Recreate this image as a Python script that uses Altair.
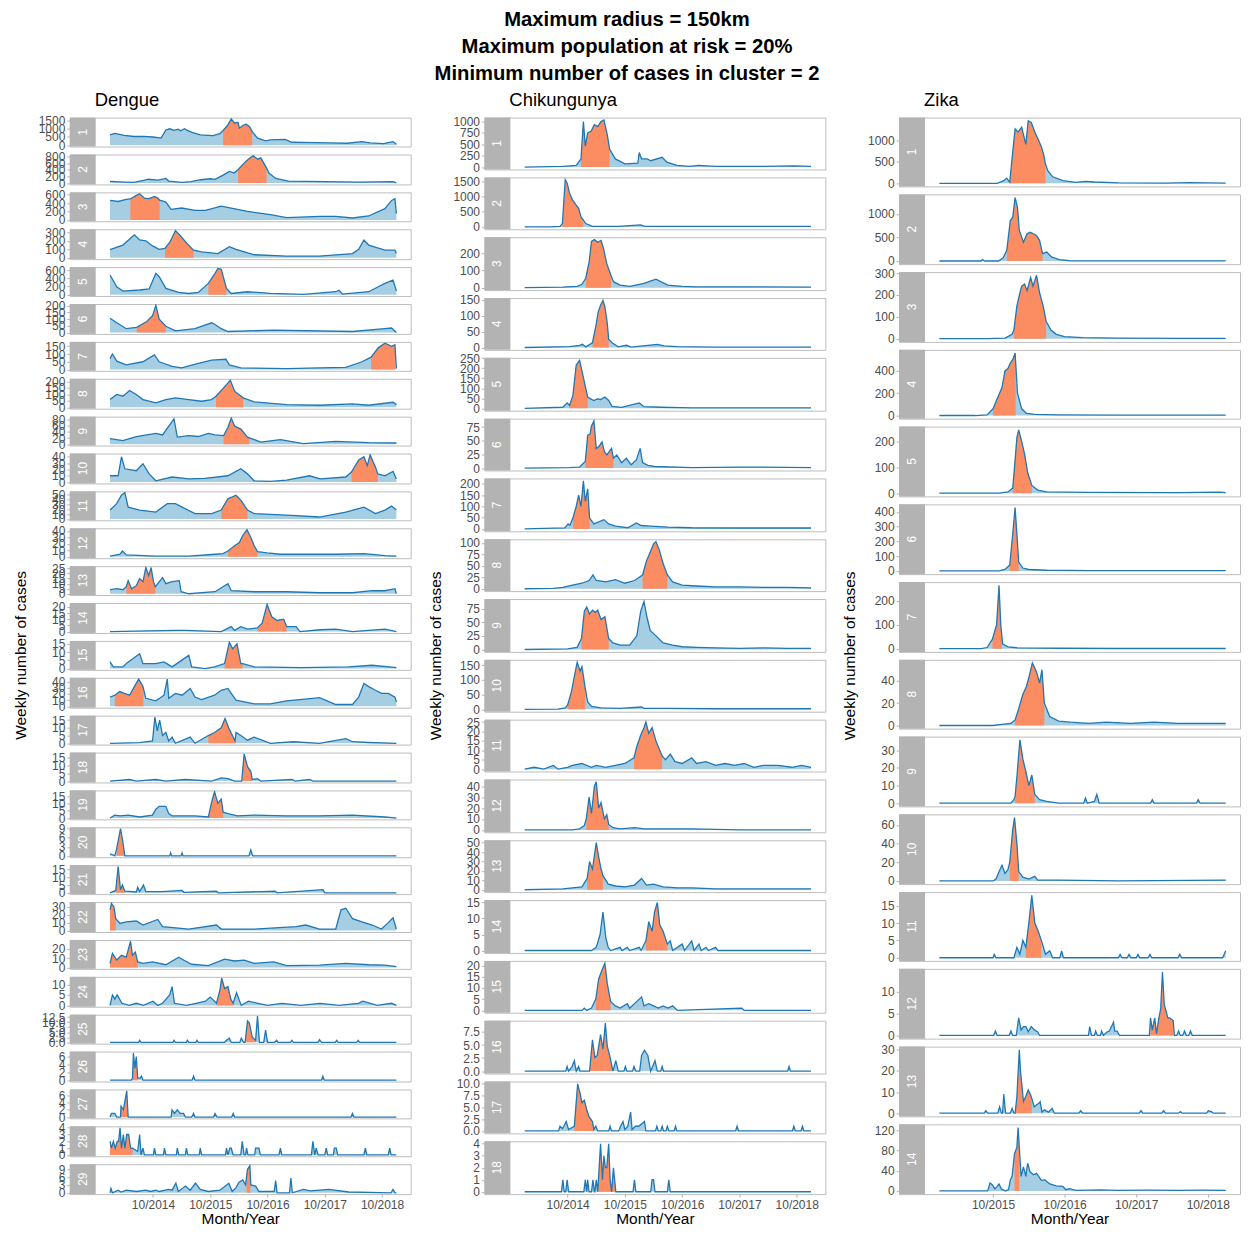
import altair as alt
import pandas as pd

FONT = "Liberation Sans"
TITLE_LINES = ["Maximum radius = 150km", "Maximum population at risk = 20%",
               "Minimum number of cases in cluster = 2"]
DISEASES = ["Dengue", "Chikungunya", "Zika"]
N_MONTHS = {"Dengue": 60, "Chikungunya": 60, "Zika": 48}   # months since Jan of first year
XTICKS = {"Dengue": [9, 21, 33, 45, 57], "Chikungunya": [9, 21, 33, 45, 57], "Zika": [9, 21, 33, 45]}
XLABELS = {"Dengue": ["10/2014", "10/2015", "10/2016", "10/2017", "10/2018"],
           "Chikungunya": ["10/2014", "10/2015", "10/2016", "10/2017", "10/2018"],
           "Zika": ["10/2015", "10/2016", "10/2017", "10/2018"]}
Y_TITLE = "Weekly number of cases"
X_TITLE = "Month/Year"

# ---------------- Dengue (months since Jan 2014, weekly cases) ----------------
DENGUE = [
 [(0,630),(1,720),(3,600),(5,530),(7,540),(9,500),(10.7,430),(11.7,930),(12.5,1000),(13.4,900),(14.3,980),(14.8,880),(15.6,1000),(16.2,900),(17.2,780),(18.9,630),(21.6,590),(23,700),(23.7,900),(24.6,1200),(25.4,1600),(26.1,1340),(26.8,1400),(27.1,1040),(27.8,1200),(28.5,1280),(29.2,1140),(29.8,830),(30.9,430),(32.6,270),(33.6,330),(35,340),(36.7,360),(38.1,180),(42.9,160),(46,140),(49.7,120),(52.8,220),(54.5,140),(57.3,100),(59.3,220),(60,60)],
 [(0,50),(3,30),(5,20),(7,80),(8,115),(10,90),(11.7,140),(12.3,60),(15,20),(17,40),(19,100),(21,130),(22,110),(23.7,240),(25,350),(26,300),(26.8,400),(28.5,660),(29.5,780),(30,820),(31,720),(31.6,760),(32.8,450),(33.3,300),(34.7,140),(37.4,60),(45,40),(52,30),(59.3,40),(60,5)],
 [(0,465),(1.7,440),(3.4,490),(4.25,500),(5.5,585),(6.2,625),(7.2,520),(8.2,510),(9.3,560),(10,520),(10.4,470),(11.7,425),(12.8,253),(15,285),(17.8,230),(20,230),(23.3,330),(26.7,253),(28.8,205),(33.6,126),(37,55),(43.9,87),(47.3,87),(50.8,47),(54.2,95),(57.6,270),(59,465),(59.7,505),(60,150)],
 [(0,97),(2.7,150),(5.1,270),(6.2,210),(7.5,200),(8.9,140),(10.3,100),(11.5,110),(12.6,190),(13.7,320),(14.7,263),(16.1,170),(17.5,90),(19.2,70),(22.6,50),(25,130),(26.4,100),(30.2,36),(37,20),(43.9,20),(50.8,50),(52.1,100),(53.2,210),(54.2,150),(57.6,90),(59.7,90),(60,50)],
 [(0,480),(1.4,195),(2.7,90),(6.2,115),(8.2,140),(9.6,520),(10.3,440),(11.7,155),(14.4,60),(16.5,30),(18.5,55),(20.6,275),(22,520),(22.6,640),(23.3,620),(24.4,155),(25.4,30),(28.8,73),(33.6,32),(40.5,8),(47.3,73),(48,110),(48.7,15),(54.2,73),(56.2,195),(57.6,275),(59.3,355),(60,90)],
 [(0,107),(1.4,73),(3.4,29),(5.6,39),(7.6,80),(8.9,125),(9.6,203),(10.3,100),(11.7,47),(13.7,13),(17.8,29),(21.3,73),(22,60),(23.3,29),(24.7,8),(34.3,18),(50.8,8),(57.6,29),(59,34),(60,0)],
 [(0,70),(0.5,100),(1.4,54),(3.4,30),(6.9,50),(9.3,94),(10.3,50),(13,20),(15,10),(18.5,40),(21.3,60),(24.3,66),(25,30),(27.4,10),(37,6),(43.9,10),(49.4,14),(52.8,50),(54.7,80),(56.2,140),(57.6,170),(59,150),(59.7,160),(60,6)],
 [(0,60),(1.4,100),(2.7,86),(4.1,130),(5.5,99),(6.9,60),(9.6,34),(11.7,60),(13.7,73),(16.5,60),(19.2,47),(21.3,60),(22.2,86),(23.8,150),(25.2,210),(26.1,125),(27.9,73),(30.2,42),(37,21),(43.9,16),(50.8,26),(54.2,16),(59.3,39),(60,21)],
 [(0,18),(2.7,12),(5.5,25),(9.6,35),(11,30),(13.4,82),(14.1,23),(16.5,28),(18.5,25),(20.6,35),(22,30),(23.8,28),(24.7,54),(25.4,85),(26.1,59),(27.4,49),(28.8,23),(31.6,7),(35.7,15),(40.5,2),(47.3,9),(54.2,5),(60,4)],
 [(0,10),(1.7,10),(2.4,40),(3.1,21),(5.5,18),(6.9,29),(8.2,13),(9.6,2),(13,8),(16.5,5),(19.9,6),(24.7,10),(27.4,21),(28.8,13),(30.2,2),(33.6,1),(37,3),(41.8,10),(44,5),(49.4,8),(50.6,16),(52.1,35),(53.2,40),(53.9,26),(54.5,43),(55.6,24),(56.1,13),(57.6,10),(59.3,17),(60,5)],
 [(0,18),(1.4,31),(2.4,48),(3.1,53),(3.8,24),(6.2,18),(9.6,14),(12,31),(13.7,31),(15.1,24),(17.8,11),(21.3,11),(23.3,18),(24.7,41),(26.4,48),(27.4,38),(28.8,18),(30.2,11),(37,8),(43.9,4),(49.4,14),(53.2,24),(55.6,11),(57.6,18),(59,26),(60,18)],
 [(0,1),(2.1,4),(2.6,9),(3.4,3),(9.6,1),(16.5,1),(22,4),(23.7,5),(24.7,9),(26.1,17),(27.1,22),(27.8,33),(28.7,42),(29.5,30),(30.2,17),(30.9,8),(32.9,6),(35.7,4),(40.5,4),(47.3,4),(53.2,5),(57.6,2),(60,1)],
 [(0,4),(1.4,5),(2.7,4),(3.4,7),(3.8,13),(4.5,5),(5.5,8),(6.2,15),(6.9,12),(7.5,26),(8.1,18),(8.6,26),(9.1,12),(9.5,7),(11,16),(11.7,10),(13,12),(14.5,13),(14.9,2),(16.5,0),(22,2),(24.7,10),(25.4,3),(30.2,2),(37,2),(43.9,1),(50.8,1),(54.9,3),(57.6,3),(59.7,5),(60,0)],
 [(0,0),(13.7,1),(15.8,1),(23.3,0),(25.4,4),(26.1,1),(27.4,4),(28.8,2),(30.9,3),(31.9,7),(32.9,22),(33.9,12),(35,9),(36.4,10),(37,4),(39,4),(39.8,0),(44,1.5),(47.3,2),(50.8,0),(57.6,2),(60,0)],
 [(0,4),(0.7,1),(2.7,1),(3.4,3),(6.2,9),(6.9,3),(9.6,3),(11.3,4),(13,1),(16.5,8),(17.1,1),(19.9,0),(21.9,1),(24,3),(25,16),(25.7,12),(26.6,15),(27.4,3),(27.8,3),(30.2,1),(40,0.5),(50,1),(54.9,2),(60,0.5)],
 [(0,15),(1,18),(2,24),(3,21),(4.1,18),(5.1,32),(6,44),(6.9,32),(7.5,13),(9.6,9),(11.3,18),(12,44),(12.3,13),(13.7,21),(15.1,18),(16.8,29),(17.8,15),(19.2,11),(21.9,18),(23.3,26),(24.7,29),(25.4,21),(26.4,10),(30.2,4),(33.6,4),(37,9),(42.5,13),(43.9,14),(47.3,3),(50.8,3),(52.1,15),(53.2,37),(54.2,32),(55.6,26),(56.9,21),(58.3,21),(59.7,15),(60,7)],
 [(0,0),(6.2,0.4),(8.9,1.5),(9.4,17),(9.9,8),(10.4,15),(11,5),(11.7,7),(12.3,1.5),(13,4),(13.7,0),(16.8,4),(17.8,0),(20.6,5),(21.9,7),(23.3,10),(24.1,16),(25,9),(26.2,1.5),(26.4,7),(27.4,5),(28.8,2),(30.2,4),(33.6,0),(38.4,1),(43.9,0),(49.4,3),(50.8,1),(54.2,0.5),(60,0)],
 [(0,0),(4.1,1),(5.5,0),(9.6,1),(11.7,0),(15.8,1),(21.3,0),(23.3,2),(24.7,1.5),(26.1,0),(27.6,0),(28.1,17),(28.8,9),(29.5,6),(29.8,1),(30.9,1.5),(31.6,0),(38.1,1),(38.8,0),(41.8,1),(42.5,0),(60,0)],
 [(0,0),(1,2),(2.1,1.5),(3.8,2),(6.2,0.7),(8.9,2),(9.6,6),(10.3,8),(11.7,8),(12.3,3),(13,1.5),(17.8,1.5),(20.6,0.7),(21.3,11),(21.9,18),(22.6,10),(23.3,13),(23.7,4),(24.7,3),(26.7,1.5),(30.2,2),(37,1.5),(43.9,1.5),(50.8,2),(57.6,0.7),(60,0)],
 [(0,0.7),(1,0),(1.4,2.4),(2.2,9),(2.6,5.5),(3.1,0),(12.5,0),(12.7,1),(12.9,0),(14.9,0),(15.1,1),(15.3,0),(29.1,0),(29.5,2),(29.9,0),(60,0)],
 [(0,0),(1.2,1.5),(1.7,17),(2.2,2),(2.6,5),(3.1,1),(5.5,0.5),(5.8,3.5),(6.2,0.8),(7,5),(7.5,0.8),(10.9,0.8),(15.1,1.5),(15.5,0.3),(22.3,1),(22.7,0),(34.6,1),(35,0),(44.6,2),(45,0),(60,0)],
 [(0,26),(0.3,34),(0.8,30),(1.2,15),(2.1,9),(3.4,11),(5.5,12),(6.9,7),(10,14),(11,5),(16.5,2),(22.3,7),(23.3,2),(30.2,2),(39,5),(41,7),(43.9,2),(47.3,2),(48.4,26),(49.4,28),(50.8,15),(52.8,11),(54.9,7),(56.9,2),(58.3,10),(59.3,16),(60,2)],
 [(0,4.5),(0.5,15),(1.4,8),(2.4,13),(3.4,11),(4.3,28),(4.7,13),(5.3,16.5),(5.8,6),(6.9,4.5),(8.9,6),(11.7,3),(14.4,11),(15.4,8),(17.1,3.5),(20.6,2),(24,9),(26.1,7),(28.1,8),(30.2,4.5),(34.3,6),(37,2),(43.9,2.5),(49.4,4.5),(54.2,3),(57.6,2.5),(60,1)],
 [(0,0),(0.5,5),(1,3),(1.5,5),(2.5,1),(4,0),(5.5,1),(7,0),(9,2),(10,0),(11,1),(12.5,5),(13,9),(13.5,1),(16,0),(18,1),(20,2),(21,4),(22.3,1),(23,7),(23.4,13),(24,8),(24.7,9),(25.3,3),(25.8,1),(26.5,6),(27.5,0),(29,2),(31,1),(33,0),(36,1),(40,0),(44,1),(48,0),(52,1),(53,2),(56,0),(59,1),(60,0)],
 [(0,0),(6,0),(6.2,1),(6.5,0),(13.2,0),(13.4,1),(13.7,0),(16,0),(16.2,1),(16.5,0),(18,0),(18.2,1),(18.5,0),(24,0),(24.4,1),(25,2),(25.4,0),(27.2,0),(27.5,2),(28,0),(28.3,0),(28.8,10.5),(29.2,9.5),(29.8,2.5),(30.5,1),(30.9,13),(31.3,0),(32.2,0),(32.6,6),(33,0),(34.5,0),(34.9,1),(35.2,0),(37.8,0),(38.1,1),(38.4,0),(43.6,0),(43.9,1.3),(44.3,0),(47.2,0),(47.5,1),(47.8,0),(51.7,0),(52,1),(52.3,0),(60,0)],
 [(0,0),(4.5,0),(4.7,0.5),(4.9,6.9),(5.2,3),(5.5,6),(5.8,0.5),(6.3,0.5),(6.6,1),(6.9,0),(17.2,0),(17.5,1),(17.8,0),(44.3,0),(44.6,1),(44.9,0),(60,0)],
 [(0,0),(0.3,1),(1,1),(1.4,0),(2.2,0),(2.3,3),(2.8,2),(3.5,7.3),(3.8,0),(12.8,0),(13,2),(13.5,1),(14.1,2),(14.7,1),(15.4,1),(15.8,0),(17.1,0),(17.5,1),(17.8,0),(21.7,0),(22,1),(22.4,0),(25.5,0),(25.8,1),(26.1,0),(50.5,0),(50.8,1),(51.1,0),(60,0)],
 [(0,2),(0.3,1),(0.7,2),(1.1,1),(1.5,2),(1.8,2),(2.1,4),(2.4,1),(2.8,3),(3.1,1),(3.5,3),(3.9,3),(4.3,1),(4.7,1),(5.8,0.5),(6.2,3),(6.5,0),(6.9,1),(7.2,0),(9.1,0),(9.3,1),(9.6,0),(11.2,0),(11.4,1),(11.7,0),(13.9,0),(14.1,1),(14.4,0),(15.8,0),(16,1),(16.3,0),(18.7,0),(18.9,1),(19.2,0),(24.2,0),(24.4,1),(24.7,0),(25.1,1),(25.4,1),(25.8,0),(27.4,0),(27.7,2),(28.1,0),(28.4,0),(28.6,1),(28.9,0),(30.3,0),(30.5,1),(30.8,1),(31.2,1),(31.5,0),(35.4,0),(35.7,1),(36,0),(42.2,0),(42.5,2),(42.9,0),(43.2,1),(43.6,0),(45,0),(45.3,1),(45.6,0),(46.8,0),(47,1),(47.4,1),(47.7,0),(53.2,0),(53.5,1),(53.8,0),(58.3,0),(58.6,1),(58.9,0),(60,0)],
 [(0,0),(0.2,1.7),(0.5,0),(1.7,1),(2.3,0.3),(3.4,1),(5.5,0.5),(7.5,1),(8.5,0.5),(9.6,1),(10.3,0.5),(12.3,1.3),(13,1),(13.8,3.7),(14.3,0.5),(15.8,2.6),(16.8,1),(17.9,3.7),(18.9,1.3),(20.6,0.5),(23,1),(24.9,3.7),(25.6,0.5),(26.4,2),(27,4),(27.8,5),(28.4,3),(28.8,9),(29.3,10.5),(29.5,3),(30.5,2.6),(31.2,0.5),(34.4,0.5),(34.7,4.7),(35,0),(37.6,0),(37.9,5.7),(38.2,0),(40.5,1.3),(42,0.7),(45.8,1.3),(50,0.3),(58.9,0),(59.3,1.3),(59.7,0),(60,0)],
]
DENGUE_CLUSTERS = [(23.7,29.8),(26.8,32.8),(4.25,10.4),(11.5,17.5),(20.6,24.4),(5.6,11.7),(54.7,59.7),(22.2,27.9),
                   (23.8,29.2),(50.6,56.1),(23.3,28.8),(24.7,30.9),(3.4,9.5),(30.9,37),(24,27.8),(1,7),(20.6,26.2),
                   (27.6,29.8),(20.7,23.7),(1.4,3.1),(1.2,3.1),(0,1.2),(0,5.8),(22.3,25.8),(28.3,30.5),(4.7,5.8),
                   (2.2,3.8),(0,4.7),(28.6,29.4)]
DENGUE_YTICKS = [[0,500,1000,1500],[0,200,400,600,800],[0,200,400,600],[0,100,200,300],[0,200,400,600],
                 [0,50,100,150,200],[0,50,100,150],[0,50,100,150,200],[0,20,40,60,80],[0,10,20,30,40],
                 [0,10,20,30,40,50],[0,10,20,30,40],[0,5,10,15,20,25],[0,5,10,15,20],[0,5,10,15],
                 [0,10,20,30,40],[0,5,10,15],[0,5,10,15],[0,5,10,15],[0,3,6,9],[0,5,10,15],[0,10,20,30],
                 [0,10,20],[0,5,10],[0,2.5,5,7.5,10,12.5],[0,2,4,6],[0,2,4,6],[0,1,2,3,4],[0,3,6,9]]

# ---------------- Chikungunya (months since Jan 2014) ----------------
CHIK = [
 [(0,0),(8,14),(10.8,36),(11.8,180),(12.3,1000),(12.7,460),(13.2,750),(13.9,785),(14.6,930),(15.3,890),(16,1000),(16.6,1035),(17.3,715),(17.8,390),(19,180),(21,71),(23.7,85),(24,320),(24.5,180),(25.7,180),(26.4,140),(28.8,215),(29.8,107),(31.9,36),(34.6,14),(36.4,36),(40,14),(50,14),(56.4,28),(60,14)],
 [(0,0),(5.3,0),(7.4,15),(7.9,110),(8.5,1550),(8.9,1440),(9.4,1110),(10,890),(10.8,720),(11.3,610),(11.8,330),(12.3,220),(12.8,110),(14.2,20),(19.6,20),(24.3,65),(25.1,20),(33,15),(60,15)],
 [(0,0),(8,3),(11,8),(12,20),(12.8,55),(13.5,150),(14,270),(14.6,280),(15.3,265),(16,275),(16.5,230),(17.2,140),(18.1,70),(18.6,35),(20,15),(22,8),(25,25),(26.5,40),(27.5,50),(28.5,35),(30,15),(33,8),(36,5),(45,5),(60,3)],
 [(0,0),(9.4,3),(11.5,7),(12.1,10),(12.8,2),(14.2,15),(14.9,66),(15.4,112),(15.9,133),(16.4,148),(16.8,128),(17.3,77),(17.6,26),(18.3,15),(19.6,2),(21.3,7),(22.3,1),(27.8,10),(29.2,5),(31.9,3),(40,1),(60,1)],
 [(0,0),(8,5),(8.9,27),(9.4,14),(10.1,64),(10.8,216),(11.5,240),(11.8,208),(12.5,132),(13.2,56),(13.8,47),(14.5,39),(15.2,47),(15.9,44),(16.8,56),(17.6,39),(18.3,10),(20.3,5),(24,27),(25,8),(28.5,5),(35,2),(60,2)],
 [(0,0),(9.4,1),(11.5,2),(12.3,9),(12.7,12),(13.2,60),(13.7,62),(14.0,77),(14.5,86),(15,36),(15.6,40),(16.2,48),(16.7,30),(17.2,24),(18.2,36),(18.6,18),(19.3,24),(20.3,10),(21.3,18),(22.3,6),(23.4,15),(24.2,36),(24.7,10),(25.8,5),(27.2,3),(35,1),(45,2),(60,1)],
 [(0,0),(8.4,4),(9.1,22),(9.5,16),(10.1,48),(10.8,100),(11.3,150),(11.8,100),(12.3,213),(12.7,122),(13.2,178),(13.6,48),(14.5,22),(16.6,41),(17.6,22),(19,12),(21.6,5),(23.4,26),(24.4,15),(26.4,12),(30,8),(35,5),(45,4),(60,4)],
 [(0,0),(6,1),(8,3),(10,8),(12,12),(13.5,18),(14.3,30),(15,18),(17,15),(19,20),(21,12),(23,18),(24.7,30),(25.5,60),(26.3,80),(27,98),(27.5,103),(28.2,85),(29,55),(29.9,30),(31,15),(33,8),(36,6),(40,4),(45,4),(50,3),(55,3),(60,2)],
 [(0,0),(9,1),(11,4),(11.9,20),(12.5,70),(13,78),(13.6,65),(14.2,72),(14.8,68),(15.3,72),(16,55),(16.8,60),(17.6,20),(18.5,12),(20,8),(22,8),(23.5,25),(24.3,70),(25,88),(25.6,60),(26.3,35),(27.5,25),(29,12),(31,8),(33,5),(36,4),(40,3),(45,2),(50,3),(55,2),(60,2)],
 [(0,0),(7,1),(8.5,5),(9,15),(9.8,60),(10.5,120),(11,160),(11.6,130),(12,145),(12.7,70),(13.2,25),(14,10),(16,5),(20,3),(24.5,8),(25,3),(30,3),(40,2),(50,2),(60,2)],
 [(0,0),(2,1),(4,0),(6,2),(7,0),(9,1),(10,2),(12,3),(14,1),(15,2),(17,1),(19,2),(21,3),(22.9,6),(23.5,12),(24.3,18),(25,22),(25.4,25),(26,19),(26.7,22),(27.5,15),(28.3,10),(28.8,7),(29.5,5),(30.5,8),(31.5,4),(33,3),(35,6),(36,3),(38,4),(40,2),(42,3),(44,2),(46,3),(48,1),(50,2),(53,2),(56,1),(58,2),(60,1)],
 [(0,0),(10,0),(11.5,1),(12.5,4),(12.9,10),(13.5,30),(14,15),(14.6,40),(15,44),(15.5,20),(16,25),(16.7,10),(17.2,14),(17.6,5),(18.5,2),(20,1),(23,2),(25,1),(28,1),(35,1),(45,0),(60,0)],
 [(0,0),(8,1),(10,2),(12,3),(13.1,12),(13.6,30),(14.2,22),(15,50),(15.5,35),(16,22),(16.4,15),(17.5,6),(19,4),(21,3),(23,5),(24.5,12),(25.5,5),(27,6),(29,3),(32,2),(35,2),(40,1),(50,1),(60,1)],
 [(0,0),(14,0),(15,1),(15.8,5),(16.4,12),(17,4),(17.5,1),(18,0),(20,1),(20.4,0),(21.5,1),(22,0),(24,1),(24.4,0),(25.4,3),(26,9),(26.7,6),(27.2,12),(27.8,15),(28.3,8),(29,6),(29.9,2),(30.5,3),(31,0),(33,2),(33.5,0),(35,3),(35.5,0),(36.5,2),(37,0),(38,1),(38.5,0),(40,1),(40.5,0),(60,0)],
 [(0,0),(12,0),(12.5,1),(13,0),(14,1),(14.9,5),(15.5,14),(16.2,18),(16.8,21),(17.3,12),(18,4),(19,2),(20,1),(21.5,3),(22,1),(23.5,4),(24.5,6),(25,2),(26,3),(27,2),(28,1),(29,2),(30,1),(31,2),(32,0),(45.5,1),(46,0),(60,0)],
 [(0,0),(8.6,0),(8.9,0.9),(9.2,0),(9.9,0.8),(10.4,2),(10.8,0),(11.3,0.9),(11.6,0),(13.6,0),(14.2,6),(14.7,2.6),(15.2,3),(15.9,7),(16.4,4.2),(16.9,9.2),(17.3,4.8),(17.8,3),(18.5,0),(19.1,2),(19.6,0),(20.8,0),(21.1,0.9),(21.4,0),(22.6,0),(22.9,0.9),(23.3,0),(24.1,0),(24.5,3),(25.1,4),(25.8,3),(26.4,0),(27.3,2),(27.8,0),(28.5,0),(28.8,0.9),(29.1,0),(55.1,0),(55.4,0.9),(55.7,0),(60,0)],
 [(0,0),(7.1,0),(7.4,1),(7.9,0.5),(8.2,1),(8.7,2),(9.2,0.3),(10.4,1),(11.1,10),(11.6,8),(12,6),(12.5,6.5),(13,4.5),(13.5,3),(14.2,2),(14.5,0.3),(14.9,1),(15.3,0),(17.6,0),(17.9,1),(18.2,0),(19.7,0),(20.1,1),(20.6,2),(21,0.3),(21.6,1),(22.2,4),(22.5,0.3),(23.2,1),(23.9,1),(25.1,2),(25.4,0),(27.4,0),(27.7,1),(28,0),(28.5,0),(28.8,1),(29.1,0),(29.6,0),(29.9,1),(30.2,0),(31.3,0),(31.6,1),(31.9,0),(44.2,0),(44.5,1),(44.8,0),(56.1,0),(56.4,1),(56.7,0),(57.9,0),(58.2,1),(58.5,0),(60,0)],
 [(0,0),(7.7,0),(8,1),(8.3,0),(8.6,0),(8.9,1),(9.2,0),(12.4,0),(12.7,1),(13,0),(13.2,1),(13.5,0),(14,0),(14.3,1),(14.6,0),(14.7,0),(15,1),(15.3,0),(15.9,4),(16.3,1),(16.6,3),(16.9,2),(17.2,2),(17.6,4),(17.9,1),(18.2,0),(18.6,2),(19.1,0),(22.7,0),(23,1),(23.3,0),(26.4,0),(26.7,1),(27,1),(27.3,0),(29.9,0),(30.2,1),(30.5,0),(60,0)],
]
CHIK_CLUSTERS = [(11.8,17.8),(7.9,12.3),(12.8,18.1),(14.2,17.6),(9.4,13.2),(12.7,18.6),(10.1,13.6),(24.7,29.9),
                 (11.9,17.6),(9,12.7),(22.9,28.8),(12.9,17.6),(13.1,16.4),(25.4,29.9),(14.9,18),(13.6,18.5),
                 (10.4,14.5),(15.3,19.1)]
CHIK_YTICKS = [[0,250,500,750,1000],[0,500,1000,1500],[0,100,200],[0,50,100,150],[0,50,100,150,200,250],
               [0,25,50,75],[0,50,100,150,200],[0,25,50,75,100],[0,25,50,75],[0,50,100,150],
               [0,5,10,15,20,25],[0,10,20,30,40],[0,10,20,30,40,50],[0,5,10,15],[0,5,10,15,20],
               [0,2.5,5,7.5],[0,2.5,5,7.5,10],[0,1,2,3,4]]

# ---------------- Zika (months since Jan 2015) ----------------
ZIKA = [
 [(0,0),(9.7,0),(10.8,60),(11.3,120),(11.8,22),(12.2,590),(12.7,1260),(13.2,1190),(13.8,1300),(14.5,900),(14.9,1450),(15.4,1410),(16,1190),(16.5,1040),(17.1,850),(17.5,660),(17.8,440),(18.2,285),(19,150),(20.7,60),(22.9,22),(24.5,45),(26,30),(30,10),(38,5),(42,15),(48,3)],
 [(0,0),(7,0),(7.2,28),(7.6,0),(9.9,0),(10.7,70),(11.3,225),(11.9,860),(12.3,930),(12.7,1350),(13.1,1140),(13.4,650),(14.1,400),(14.7,580),(15.2,610),(15.8,580),(16.3,540),(16.8,440),(17.3,155),(18,190),(18.8,85),(20.1,28),(21.8,5),(48,3)],
 [(0,0),(8,0),(11,3),(12.2,20),(12.5,40),(13,150),(13.5,210),(13.8,240),(14.3,250),(14.7,220),(15.3,280),(15.7,240),(16.3,290),(16.8,210),(17.4,150),(17.9,80),(18.7,40),(19.6,20),(21,10),(24,5),(30,3),(40,2),(48,2)],
 [(0,0),(6,0),(8,5),(9,60),(9.7,150),(10.5,250),(11,400),(11.5,420),(11.9,470),(12.3,500),(12.7,560),(13.1,200),(13.8,60),(14.6,20),(16,10),(20,5),(30,3),(48,3)],
 [(0,0),(10,0),(11.5,5),(12.3,20),(12.6,100),(13,215),(13.3,245),(13.8,200),(14.3,150),(14.8,80),(15.5,30),(16.5,12),(18,5),(25,3),(40,2),(47,4),(48,2)],
 [(0,0),(10,0),(11,10),(11.8,40),(12.3,250),(12.7,430),(13,250),(13.3,60),(14,20),(15,10),(18,5),(25,3),(48,2)],
 [(0,0),(7,0),(8,5),(8.9,40),(9.3,75),(9.6,100),(10,265),(10.3,100),(10.6,20),(11.5,8),(13,4),(20,2),(30,1),(48,1)],
 [(0,0),(9,0),(10.5,1),(12,2),(12.7,5),(13.3,15),(14,28),(14.6,35),(15.1,45),(15.6,56),(16.3,48),(16.8,38),(17.2,50),(17.6,20),(18.5,8),(20,4),(22,3),(25,2),(28,3),(32,2),(36,3),(40,2),(44,2),(48,2)],
 [(0,0),(12,0),(12.5,2),(12.7,4),(13,15),(13.5,36),(14,25),(14.5,18),(15,10),(15.5,16),(16,5),(16.8,2),(18,1),(20,0),(24.2,0),(24.5,3),(24.8,0),(26,1),(26.4,5),(26.8,0),(35.4,0),(35.7,2),(36,0),(43.1,0),(43.4,2),(43.7,0),(48,0)],
 [(0,0),(9,0),(9.5,2),(10,10),(10.5,17),(11,8),(11.5,12),(11.8,20),(12.3,55),(12.6,68),(13,40),(13.3,10),(14,4),(15,2),(16,5),(16.5,1),(20,1),(30,0),(48,1)],
 [(0,0),(9,0),(9.2,1),(9.5,0),(12.5,0),(13,3),(13.5,1),(14,5),(14.5,3),(15,10),(15.5,18),(16,10),(16.5,8),(17.1,5),(17.8,1),(18.5,2),(19,0),(20.2,0),(20.5,2),(20.8,0),(30,0),(30.3,1),(30.6,0),(31.5,0),(31.8,1),(32.1,0),(33,0),(33.3,1),(33.6,0),(35,0),(35.3,1),(35.6,0),(40,0),(40.3,1),(40.6,0),(47.5,0),(48,2)],
 [(0,0),(9.1,0),(9.4,1),(9.7,0),(11.7,0),(12,1),(12.3,0),(12.9,0),(13.3,4),(13.7,1.2),(14.1,2),(14.5,2),(14.9,0.8),(15.4,2),(16,1.2),(16.5,0.8),(16.8,0),(25,0),(25.2,2),(25.5,0),(26,0),(26.2,1),(26.5,0),(27,0),(27.2,1),(27.5,0),(28.1,0.8),(28.5,1),(29.2,3),(29.4,1),(29.8,1),(30.2,0),(35.2,0),(35.4,4),(35.7,1.2),(36.1,4),(36.4,0.4),(36.8,4),(37.1,6),(37.4,14.4),(37.7,7),(38,5.6),(38.3,4),(38.6,4),(39.2,3.4),(39.4,0),(39.8,0),(40.1,1),(40.4,0),(40.8,0),(41.1,1),(41.4,0),(41.8,0),(42.1,1),(42.4,0),(48,0)],
 [(0,0),(7.5,0),(7.8,1.2),(8.1,0),(9.8,0),(10.1,3),(10.4,0),(10.6,0),(10.8,9),(11.1,0),(11.9,0),(12.2,2.3),(12.5,0),(12.7,0),(13,7.8),(13.4,30),(13.6,20),(14.1,5.5),(14.5,8),(14.9,11),(15.3,8.6),(15.5,7),(15.9,3),(16.3,4),(16.7,4.7),(16.9,5.5),(17.2,0.5),(17.6,1.6),(18.3,0.5),(18.9,2.3),(19.3,0),(23.4,0),(23.7,1.2),(24,0),(33.5,0),(33.8,1.2),(34.1,0),(37.3,0),(37.6,1.2),(37.9,0),(40.1,0),(40.4,0.8),(40.7,0),(44.8,0),(45.1,1.2),(45.6,0.8),(45.9,0),(48,0)],
 [(0,0),(8.1,0),(8.5,16),(8.9,12),(9.3,4),(9.7,9),(10,14),(10.4,4),(11.1,0),(11.6,2.6),(11.9,22),(12.2,29),(12.6,74),(13,87),(13.2,126),(13.4,87),(13.7,29),(14.1,48),(14.5,29),(14.8,55),(15.2,38),(15.8,32),(16.3,35),(17.1,21),(17.7,22),(18.5,14),(19.6,10),(20.7,9),(21.2,2.6),(21.8,4.5),(22.9,1),(25,1.5),(27,2),(30,1),(35,1.5),(40,1),(44,1.5),(48,1)],
]
ZIKA_CLUSTERS = [(11.8,17.8),(11.3,17.3),(12.5,17.9),(9,12.8),(12.3,15.5),(11.8,13.3),(8.9,10.5),(12.7,17.6),
                 (12.7,16),(11.8,13.3),(14.5,17.1),(35.4,39.2),(12.7,15.5),(12.6,13.4)]
ZIKA_YTICKS = [[0,500,1000],[0,500,1000],[0,100,200,300],[0,200,400],[0,100,200],[0,100,200,300,400],
               [0,100,200],[0,20,40],[0,10,20,30],[0,20,40,60],[0,5,10,15],[0,5,10],[0,10,20,30],[0,40,80,120]]

SERIES = {"Dengue": DENGUE, "Chikungunya": CHIK, "Zika": ZIKA}
CLUSTERS = {"Dengue": DENGUE_CLUSTERS, "Chikungunya": CHIK_CLUSTERS, "Zika": ZIKA_CLUSTERS}
YTICKS = {"Dengue": DENGUE_YTICKS, "Chikungunya": CHIK_YTICKS, "Zika": ZIKA_YTICKS}

# ---------------- styling / layout ----------------
FILL = "#a6cee3"
LINE = "#1f78b4"
ORANGE = "#fc8d62"
STRIP = "#b3b3b3"
BOX_W = 342
STRIP_W = 26
SPACING = 8
COLUMN_H = 1080
YTITLE_PANEL = {"Dengue": (14, 0.5), "Chikungunya": (8, 1.0), "Zika": (6, 1.0)}


def panel_heights(n):
    # whole-pixel panel heights that add up to the column height
    avail = COLUMN_H - (n - 1) * SPACING
    base, extra = divmod(avail, n)
    hs = []
    acc = 0
    for i in range(n):
        step = ((i + 1) * extra) // n - acc
        acc += step
        hs.append(base + step)
    return hs


PANEL_H = {d: panel_heights(len(SERIES[d])) for d in DISEASES}


def xdomain(n):
    lo, hi = -0.05 * n, 1.05 * n
    span = hi - lo
    return [lo - STRIP_W * span / (BOX_W - STRIP_W), hi]


def value_at(pts, x):
    for (a, b), (c, d) in zip(pts, pts[1:]):
        if a <= x <= c:
            return b if c == a else b + (d - b) * (x - a) / (c - a)
    return pts[-1][1]


def cluster_pts(pts, c0, c1):
    inner = [(a, b) for a, b in pts if c0 < a < c1]
    return [(c0, value_at(pts, c0))] + inner + [(c1, value_at(pts, c1))]


def label_expr(values, labels):
    expr = "''"
    for v, l in reversed(list(zip(values, labels))):
        expr = f"datum.value == {v} ? '{l}' : ({expr})"
    return expr


def make_panel(disease, k, H, pts, cluster, yticks, last, first, ytitle_y):
    pts = sorted(pts)
    df = pd.DataFrame(pts, columns=["t", "v"])
    df["z"] = 0
    odf = pd.DataFrame(cluster_pts(pts, *cluster), columns=["t", "v"])
    odf["z"] = 0
    vmax = float(df["v"].max())
    fmt = ".1f" if any(float(v) % 1 for v in yticks) else "d"
    yaxis = alt.Axis(title=None, values=yticks, format=fmt, labelOverlap=False, domain=False, grid=False,
                     tickSize=3, labelPadding=2, labelFontSize=12)
    if last:
        xaxis = alt.Axis(values=XTICKS[disease], labelExpr=label_expr(XTICKS[disease], XLABELS[disease]),
                         title=X_TITLE, titleFontSize=15.5, titleFontWeight="normal", titleColor="black",
                         labelFontSize=12, labelFlush=False, labelOverlap=False, domain=False, grid=False,
                         tickSize=3, labelPadding=2, titlePadding=1)
    else:
        xaxis = None
    X = alt.X("t:Q", scale=alt.Scale(domain=xdomain(N_MONTHS[disease]), nice=False, zero=False), axis=xaxis)
    Y = alt.Y("v:Q", scale=alt.Scale(domain=[-0.05 * vmax, 1.05 * vmax], nice=False, zero=False), axis=yaxis)
    Y2 = alt.Y2("z")
    blue = alt.Chart(df).mark_area(color=FILL, clip=True).encode(x=X, y=Y, y2=Y2)
    orange = alt.Chart(odf).mark_area(color=ORANGE, clip=True).encode(x=X, y=Y, y2=Y2)
    line = alt.Chart(df).mark_line(color=LINE, strokeWidth=1.3, clip=True).encode(x=X, y=Y)
    sdf = pd.DataFrame({"label": [str(k)], "col": [disease], "ytitle": [Y_TITLE]})
    strip = alt.Chart(sdf).mark_rect(color=STRIP).encode(
        x=alt.value(0), x2=alt.value(STRIP_W), y=alt.value(0), y2=alt.value(H))
    text = alt.Chart(sdf).mark_text(angle=270, color="white", fontSize=12, font=FONT,
                                    align="center", baseline="middle").encode(
        x=alt.value(STRIP_W / 2), y=alt.value(H / 2), text="label:N")
    layers = [strip, text, blue, orange, line]
    if first:
        layers.append(alt.Chart(sdf).mark_text(fontSize=18.5, font=FONT, color="black", align="left",
                                               baseline="middle").encode(
            x=alt.value(25), y=alt.value(-18), text="col:N"))
    if ytitle_y is not None:
        layers.append(alt.Chart(sdf).mark_text(fontSize=15.5, font=FONT, color="black", angle=270,
                                               align="center", baseline="middle").encode(
            x=alt.value(-49), y=alt.value(ytitle_y), text="ytitle:N"))
    return alt.layer(*layers).properties(width=BOX_W, height=H)


def make_column(disease):
    ser = SERIES[disease]
    n = len(ser)
    ti, frac = YTITLE_PANEL[disease]
    hs = PANEL_H[disease]
    panels = []
    for i in range(n):
        ty = None
        if i == ti:
            ty = hs[i] * frac + (SPACING / 2 if frac >= 1 else 0)
        panels.append(make_panel(disease, i + 1, hs[i], ser[i], CLUSTERS[disease][i], YTICKS[disease][i],
                                 i == n - 1, i == 0, ty))
    return alt.vconcat(*panels, spacing=SPACING, bounds="flush")


chart = alt.hconcat(*[make_column(d) for d in DISEASES], spacing=16).properties(
    title=alt.TitleParams(TITLE_LINES, anchor="middle", fontSize=20.3, fontWeight="bold", lineHeight=27,
                          font=FONT, color="black", offset=6),
    padding={"left": 5, "top": 0, "right": 0, "bottom": 0},
).configure_view(stroke="#bdbdbd", strokeWidth=1).configure_axis(
    labelFont=FONT, titleFont=FONT, labelColor="#4d4d4d", tickColor="#b3b3b3", grid=False
)

chart.save("out.html", embed_options={"renderer": "svg", "actions": False})
